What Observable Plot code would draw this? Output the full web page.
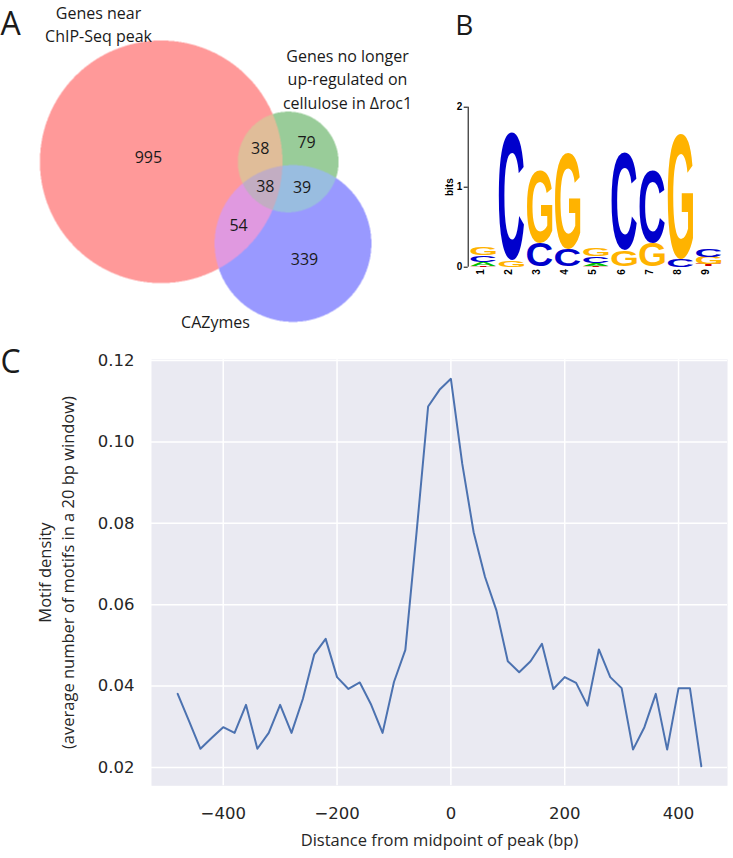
<!DOCTYPE html>
<html><head><meta charset="utf-8">
<script src="https://cdn.jsdelivr.net/npm/d3@7"></script>
<script src="https://cdn.jsdelivr.net/npm/@observablehq/plot@0.6"></script>
<style>
body{margin:0;background:#fff;}
#fig{position:relative;width:733px;height:858px;overflow:hidden;background:#fff;}
#fig svg{position:absolute;overflow:visible;}
</style></head><body><div id="fig"></div>
<script>
// ---------------- Panel A data: Venn diagram ----------------
const vennRegions = ["100", "010", "110", "001", "101", "011", "111"];
const vennCounts = [995, 79, 38, 339, 54, 39, 38];
const vennSetLabels = ["Genes near\nChIP-Seq peak", "Genes no longer\nup-regulated on\ncellulose in Δroc1", "CAZymes"];
const vennRegionColors = ["#ff9999", "#99cc99", "#e0bd99", "#9999ff", "#e099e0", "#99bde0", "#c2adc2"];
// layout of the area-proportional diagram (chart units)
const vennCentreX = [160.7, 287.7, 292.5];
const vennCentreY = [161.3, 161.5, 243.0];
const vennUnit = 3.616; // radius units per sqrt(count)
const vennLabelX = [98, 347, 215];
const vennLabelY = [2.6, 45.6, 311.6];

// ---------------- Panel B data: sequence logo ----------------
const logoPositions = [1, 2, 3, 4, 5, 6, 7, 8, 9];
const bitsA = [0.045, 0, 0, 0, 0.035, 0, 0, 0, 0.005];
const bitsC = [0.08, 1.6, 0.29, 0.22, 0.08, 1.22, 0.9, 0.1, 0.1];
const bitsG = [0.09, 0.08, 0.9, 1.2, 0.09, 0.2, 0.29, 1.57, 0.09];
const bitsT = [0.015, 0, 0, 0, 0.015, 0, 0, 0, 0.03];
const logoLetters = ["A", "C", "G", "T"];
const logoColors = ["#00c000", "#0000cc", "#ffb300", "#cc0000"];
const bitsTicks = [0, 1, 2];

// ---------------- Panel C data: motif density ----------------
const distance = [-480, -460, -440, -420, -400, -380, -360, -340, -320, -300, -280, -260, -240, -220, -200, -180,
  -160, -140, -120, -100, -80, -60, -40, -20, 0, 20, 40, 60, 80, 100, 120, 140, 160, 180, 200, 220, 240, 260, 280,
  300, 320, 340, 360, 380, 400, 420, 440];
const density = [0.0381, 0.0314, 0.0246, 0.0273, 0.0299, 0.0285, 0.0354, 0.0246, 0.0285, 0.0354, 0.0285, 0.0369,
  0.0478, 0.0516, 0.0422, 0.0393, 0.0409, 0.0354, 0.0285, 0.0410, 0.0489, 0.0782, 0.1087, 0.1128, 0.1155, 0.0946,
  0.0778, 0.0668, 0.0586, 0.0461, 0.0434, 0.0461, 0.0504, 0.0393, 0.0422, 0.0408, 0.0352, 0.0490, 0.0422, 0.0395,
  0.0244, 0.0299, 0.0381, 0.0244, 0.0395, 0.0395, 0.0203];
const xTicks = [-400, -200, 0, 200, 400];
const yTicks = [0.02, 0.04, 0.06, 0.08, 0.10, 0.12];

const fig = document.getElementById("fig");
function place(el, left, top) { el.style.left = left + "px"; el.style.top = top + "px"; fig.appendChild(el); }

// ================= Panel A =================
const setSize = [0, 1, 2].map(k => d3.sum(vennRegions, (r, i) => r[k] === "1" ? vennCounts[i] : 0));
const radius = setSize.map(s => vennUnit * Math.sqrt(s));
function regionOf(x, y) {
  let key = "";
  for (let k = 0; k < 3; ++k) {
    const dx = x - vennCentreX[k], dy = y - vennCentreY[k];
    key += dx * dx + dy * dy <= radius[k] * radius[k] ? "1" : "0";
  }
  return key;
}
const regionColor = new Map(vennRegions.map((r, i) => [r, vennRegionColors[i]]));
// label positions: centroid of each region
const acc = new Map(vennRegions.map(r => [r, {sx: 0, sy: 0, n: 0}]));
for (let y = 0.5; y < 330; y += 1) for (let x = 0.5; x < 420; x += 1) {
  const a = acc.get(regionOf(x, y));
  if (a) { a.sx += x; a.sy += y; a.n++; }
}
const vennLabels = vennRegions.map((r, i) => {
  const a = acc.get(r);
  return {count: vennCounts[i], x: a.sx / a.n, y: a.sy / a.n};
});
const setLabels = vennSetLabels.map((t, i) => ({label: t, x: vennLabelX[i], y: vennLabelY[i]}));

const plotA = Plot.plot({
  width: 420, height: 330, margin: 0,
  x: {domain: [0, 420], range: [0, 420], axis: null},
  y: {domain: [0, 330], range: [0, 330], axis: null},
  color: {type: "identity"},
  style: {fontFamily: "'Open Sans', sans-serif", color: "#1a1a1a", background: "transparent"},
  marks: [
    Plot.raster({fill: (x, y) => regionColor.get(regionOf(x, y)) ?? null, x1: 0, y1: 0, x2: 420, y2: 330, pixelSize: 0.5}),
    Plot.text(vennLabels, {x: "x", y: "y", text: "count", fontSize: 16, fill: "#1a1a1a"}),
    Plot.text(setLabels, {x: "x", y: "y", text: "label", fontSize: 16, lineAnchor: "top", lineHeight: 1.44, fill: "#1a1a1a"}),
    Plot.text(["A"], {text: d => d, frameAnchor: "top-left", textAnchor: "start", lineAnchor: "top", dx: 0, dy: 11.5, fontSize: 32, fill: "#1a1a1a"})
  ]
});
place(plotA, 0, 0);

// ================= Panel B =================
const logoRows = [];
logoPositions.forEach((p, j) => {
  const col = logoLetters.map((l, k) => ({letter: l, color: logoColors[k], bits: [bitsA, bitsC, bitsG, bitsT][k][j]}))
    .sort((a, b) => a.bits - b.bits);
  let base = 0;
  for (const c of col) {
    logoRows.push({pos: p, letter: c.letter, color: c.color, y1: base, y2: base + c.bits});
    base += c.bits;
  }
});
const mctx = document.createElement("canvas").getContext("2d");
const logoFont = "'Liberation Sans', Arial, sans-serif";
mctx.font = "bold 100px " + logoFont;
const metrics = {};
for (const l of logoLetters) {
  const m = mctx.measureText(l);
  metrics[l] = {l: m.actualBoundingBoxLeft, r: m.actualBoundingBoxRight, a: m.actualBoundingBoxAscent, d: m.actualBoundingBoxDescent};
}
const plotB = Plot.plot({
  width: 313, height: 300, marginLeft: 49.2, marginRight: 10.3, marginTop: 106.7, marginBottom: 33.3,
  x: {domain: [0.5, 9.5], axis: null},
  y: {domain: [0, 2], axis: null},
  style: {fontFamily: logoFont, color: "#000", background: "transparent"},
  marks: [
    Plot.rect(logoRows, {
      x1: d => d.pos - 0.45, x2: d => d.pos + 0.45, y1: "y1", y2: "y2",
      render(index, scales, values) {
        const g = d3.create("svg:g");
        for (const i of index) {
          const d = logoRows[i];
          const top = Math.min(values.y1[i], values.y2[i]), bot = Math.max(values.y1[i], values.y2[i]);
          const h = bot - top;
          if (!(h > 0.2)) continue;
          const x1 = Math.min(values.x1[i], values.x2[i]), w = Math.abs(values.x2[i] - values.x1[i]);
          const m = metrics[d.letter];
          const sx = w / (m.l + m.r), sy = h / (m.a + m.d);
          g.append("text")
            .attr("transform", `translate(${x1},${top}) scale(${sx},${sy}) translate(${m.l},${m.a})`)
            .attr("text-anchor", "start")
            .attr("font-family", logoFont).attr("font-weight", "bold").attr("font-size", 100)
            .attr("fill", d.color).text(d.letter);
        }
        return g.node();
      }
    }),
    Plot.ruleX([0.5], {stroke: "#000", strokeWidth: 1, dx: -1.5}),
    Plot.axisY({ticks: bitsTicks, tickSize: 4, tickPadding: 2, dx: -1.5, tickFormat: d3.format("d"), fontSize: 10, fontWeight: "bold", label: null}),
    Plot.text(logoPositions, {x: d => d, text: d => String(d), frameAnchor: "bottom", rotate: -90, textAnchor: "end",
      dy: 2, fontSize: 10, fontWeight: "bold", fill: "#000"}),
    Plot.text(["bits"], {text: d => d, frameAnchor: "left", rotate: -90, textAnchor: "middle", dx: -20, fontSize: 10, fontWeight: "bold"}),
    Plot.text(["B"], {text: d => d, frameAnchor: "top-left", textAnchor: "start", lineAnchor: "top", dx: -14.5, dy: -91.7,
      fontSize: 28, fontFamily: "'Open Sans', sans-serif", fill: "#1a1a1a"})
  ]
});
place(plotB, 420, 0);

// ================= Panel C =================
const series = distance.map((x, i) => ({x, y: density[i]}));
const plotC = Plot.plot({
  width: 733, height: 528, marginLeft: 151, marginRight: 6, marginTop: 28.8, marginBottom: 72.7,
  x: {domain: [-526, 486]},
  y: {domain: [0.0155, 0.1203]},
  style: {fontFamily: "'DejaVu Sans', sans-serif", color: "#262626", background: "transparent"},
  marks: [
    Plot.frame({fill: "#eaeaf2"}),
    Plot.gridX({ticks: xTicks, stroke: "#fff", strokeOpacity: 1, strokeWidth: 1.5}),
    Plot.gridY({ticks: yTicks, stroke: "#fff", strokeOpacity: 1, strokeWidth: 1.5}),
    Plot.axisX({ticks: xTicks, tickSize: 0, tickPadding: 21, tickFormat: d3.format("d"), fontSize: 16.5, label: null}),
    Plot.axisY({ticks: yTicks, tickSize: 0, tickPadding: 17, tickFormat: d3.format(".2f"), fontSize: 16.5, label: null}),
    Plot.lineY(series, {x: "x", y: "y", stroke: "#4c72b0", strokeWidth: 2}),
    Plot.text(["Distance from midpoint of peak (bp)"], {text: d => d, frameAnchor: "bottom", textAnchor: "middle", lineAnchor: "middle",
      dy: 55, fontSize: 16.5, fontFamily: "'Open Sans', sans-serif", fill: "#262626"}),
    Plot.text(["Motif density"], {text: d => d, frameAnchor: "left", rotate: -90, textAnchor: "middle", lineAnchor: "middle", dx: -106,
      fontSize: 16.5, fontFamily: "'Open Sans', sans-serif", fill: "#262626"}),
    Plot.text(["(average number of motifs in a 20 bp window)"], {text: d => d, frameAnchor: "left", rotate: -90, textAnchor: "middle",
      lineAnchor: "middle", dx: -83, fontSize: 16.5, fontFamily: "'Open Sans', sans-serif", fill: "#262626"}),
    Plot.text(["C"], {text: d => d, frameAnchor: "top-left", textAnchor: "start", lineAnchor: "top", dx: -151, dy: -9,
      fontSize: 32, fontFamily: "'Open Sans', sans-serif", fill: "#1a1a1a"})
  ]
});
place(plotC, 0, 330);
</script></body></html>
